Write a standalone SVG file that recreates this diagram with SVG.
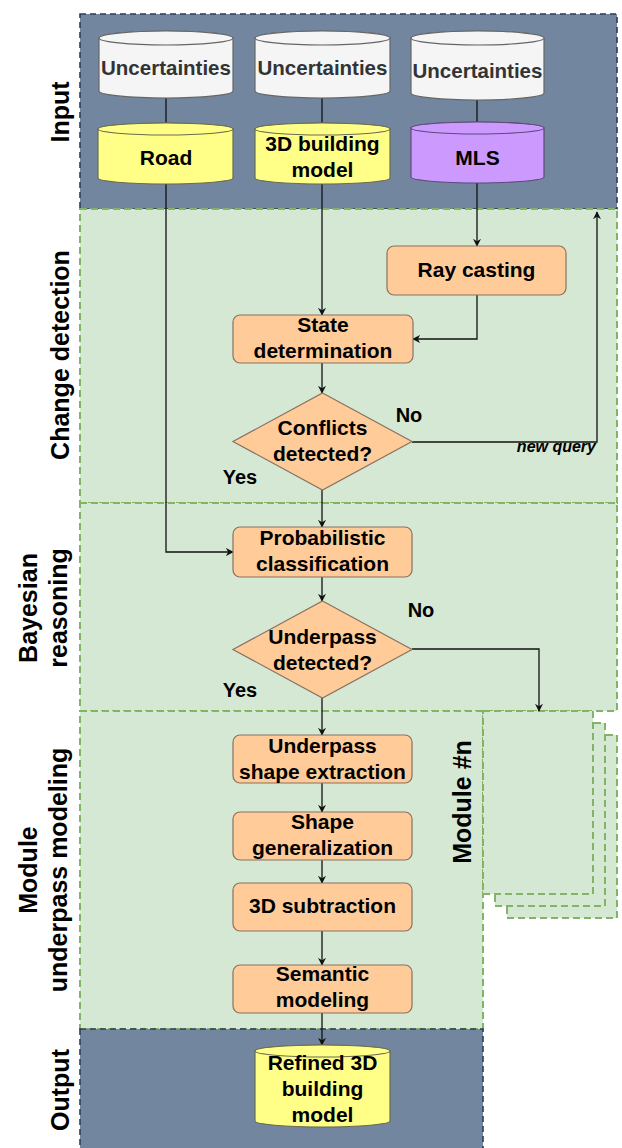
<svg xmlns="http://www.w3.org/2000/svg" width="622" height="1148" viewBox="0 0 622 1148">
<style>
text{font-family:"Liberation Sans",Arial,sans-serif;font-weight:bold;text-anchor:middle;fill:#000}
.t{font-size:21px}
.u{font-size:20.5px;fill:#333}
.lab{font-size:20px}
.side{font-size:25px}
.nq{font-size:16px;font-style:italic;text-anchor:end}
.dark{fill:#73869f;stroke:#2e3d52;stroke-width:1.6;stroke-dasharray:6 4}
.green{fill:#d5e8d4;stroke:#82b366;stroke-width:2;stroke-dasharray:7 4}
.box{fill:#ffcc99;stroke:#8a7160;stroke-width:1.2}
.cw{fill:#f5f5f5;stroke:#666;stroke-width:1.2}
.cy{fill:#ffff88;stroke:#6b6b50;stroke-width:1.2}
.cp{fill:#cc99ff;stroke:#5f4a7a;stroke-width:1.2}
.c{fill:none;stroke:#111;stroke-width:1.3}
</style>
<defs>
<marker id="ah" viewBox="0 0 10 10" refX="9" refY="5" markerWidth="8" markerHeight="8" markerUnits="userSpaceOnUse" orient="auto">
<path d="M0,0 L10,5 L0,10 L3,5 Z" fill="#111"/>
</marker>
</defs>
<g id="bands">
<rect id="band-input" class="dark" x="80" y="14" width="537" height="195"/>
<rect id="band-change" class="green" x="80" y="209" width="537" height="294"/>
<rect id="band-bayes" class="green" x="80" y="503" width="537" height="208"/>
<rect id="band-module" class="green" x="80" y="711" width="403" height="318"/>
<rect id="band-output" class="dark" x="80" y="1029" width="403" height="125"/>
</g>
<g id="module-n">
<rect class="green" x="507" y="735" width="110" height="183"/>
<rect class="green" x="495" y="723" width="110" height="183"/>
<rect class="green" x="483" y="711" width="110" height="183"/>
<text class="side" transform="translate(462,802) rotate(-90)" dy="0.35em">Module #n</text>
</g>
<g id="side-labels">
<text class="side" transform="translate(60,112) rotate(-90)" dy="0.35em">Input</text>
<text class="side" transform="translate(60,355) rotate(-90)" dy="0.35em">Change detection</text>
<text class="side" transform="translate(28,608) rotate(-90)" dy="0.35em">Bayesian</text>
<text class="side" transform="translate(58,608) rotate(-90)" dy="0.35em">reasoning</text>
<text class="side" transform="translate(28,870) rotate(-90)" dy="0.35em">Module</text>
<text class="side" transform="translate(58,870) rotate(-90)" dy="0.35em">underpass modeling</text>
<text class="side" transform="translate(60,1090) rotate(-90)" dy="0.35em">Output</text>
</g>
<g id="connectors">
<path class="c" d="M166,98 V123"/>
<path class="c" d="M322,98 V123"/>
<path class="c" d="M477,100 V122"/>
<path class="c" d="M166,184 V552 H233" marker-end="url(#ah)"/>
<path class="c" d="M322,184 V315" marker-end="url(#ah)"/>
<path class="c" d="M477,183 V246" marker-end="url(#ah)"/>
<path class="c" d="M477,295 V339 H413" marker-end="url(#ah)"/>
<path class="c" d="M322,363 V393" marker-end="url(#ah)"/>
<path class="c" d="M322,490 V527" marker-end="url(#ah)"/>
<path class="c" d="M412,442 H597 V212" marker-end="url(#ah)"/>
<path class="c" d="M322,577 V601" marker-end="url(#ah)"/>
<path class="c" d="M322,698 V735" marker-end="url(#ah)"/>
<path class="c" d="M412,649 H539 V711" marker-end="url(#ah)"/>
<path class="c" d="M322,783 V812" marker-end="url(#ah)"/>
<path class="c" d="M322,860 V883" marker-end="url(#ah)"/>
<path class="c" d="M322,931 V965" marker-end="url(#ah)"/>
<path class="c" d="M322,1013 V1045" marker-end="url(#ah)"/>
<text class="lab" x="409" y="422">No</text>
<text class="lab" x="240" y="484">Yes</text>
<text class="nq" x="596" y="452">new query</text>
<text class="lab" x="421" y="617">No</text>
<text class="lab" x="240" y="697">Yes</text>
</g>
<g id="unc1">
<path class="cw" d="M99,38 V91 A67,7 0 0 0 233,91 V38 A67,7 0 0 0 99,38 Z"/>
<ellipse class="cw" cx="166" cy="38" rx="67" ry="7"/>
<text class="u" x="166" y="75">Uncertainties</text>
</g>
<g id="unc2">
<path class="cw" d="M255,38 V91 A67.5,7 0 0 0 390,91 V38 A67.5,7 0 0 0 255,38 Z"/>
<ellipse class="cw" cx="322.5" cy="38" rx="67.5" ry="7"/>
<text class="u" x="322.5" y="75">Uncertainties</text>
</g>
<g id="unc3">
<path class="cw" d="M411,38 V93 A66.5,7 0 0 0 544,93 V38 A66.5,7 0 0 0 411,38 Z"/>
<ellipse class="cw" cx="477.5" cy="38" rx="66.5" ry="7"/>
<text class="u" x="477.5" y="78">Uncertainties</text>
</g>
<g id="road">
<path class="cy" d="M98,129 V178 A67.5,6 0 0 0 233,178 V129 A67.5,6 0 0 0 98,129 Z"/>
<ellipse class="cy" cx="165.5" cy="129" rx="67.5" ry="6"/>
<text class="t" x="166" y="164.5">Road</text>
</g>
<g id="building">
<path class="cy" d="M255,129 V178 A67.5,6 0 0 0 390,178 V129 A67.5,6 0 0 0 255,129 Z"/>
<ellipse class="cy" cx="322.5" cy="129" rx="67.5" ry="6"/>
<text class="t" x="322.5" y="150.5">3D building</text>
<text class="t" x="322.5" y="176.5">model</text>
</g>
<g id="mls">
<path class="cp" d="M411,128 V177 A66.5,6 0 0 0 544,177 V128 A66.5,6 0 0 0 411,128 Z"/>
<ellipse class="cp" cx="477.5" cy="128" rx="66.5" ry="6"/>
<text class="t" x="477.5" y="164.5">MLS</text>
</g>
<g id="raycasting">
<rect class="box" x="387" y="246" width="179" height="49" rx="7"/>
<text class="t" x="476.5" y="276.5">Ray casting</text>
</g>
<g id="state">
<rect class="box" x="233" y="315" width="180" height="48" rx="7"/>
<text class="t" x="323" y="331.5">State</text>
<text class="t" x="323" y="357.5">determination</text>
</g>
<g id="conflicts">
<path class="box" d="M322.5,393 L412,441.5 L322.5,490 L233,441.5 Z"/>
<text class="t" x="322.5" y="434.5">Conflicts</text>
<text class="t" x="322.5" y="460.5">detected?</text>
</g>
<g id="probabilistic">
<rect class="box" x="233" y="527" width="179" height="50" rx="7"/>
<text class="t" x="322.5" y="544.5">Probabilistic</text>
<text class="t" x="322.5" y="570.5">classification</text>
</g>
<g id="underpass-detected">
<path class="box" d="M322.5,601 L412,649.5 L322.5,698 L233,649.5 Z"/>
<text class="t" x="322.5" y="643.5">Underpass</text>
<text class="t" x="322.5" y="669.5">detected?</text>
</g>
<g id="shape-extraction">
<rect class="box" x="233" y="735" width="179" height="48" rx="7"/>
<text class="t" x="322.5" y="752.5">Underpass</text>
<text class="t" x="322.5" y="779">shape extraction</text>
</g>
<g id="generalization">
<rect class="box" x="233" y="812" width="179" height="48" rx="7"/>
<text class="t" x="322.5" y="828.5">Shape</text>
<text class="t" x="322.5" y="854.5">generalization</text>
</g>
<g id="subtraction">
<rect class="box" x="233" y="883" width="179" height="48" rx="7"/>
<text class="t" x="322.5" y="912.5">3D subtraction</text>
</g>
<g id="semantic">
<rect class="box" x="233" y="965" width="179" height="48" rx="7"/>
<text class="t" x="322.5" y="980.5">Semantic</text>
<text class="t" x="322.5" y="1007">modeling</text>
</g>
<g id="refined">
<path class="cy" d="M255,1051 V1121 A67.5,6 0 0 0 390,1121 V1051 A67.5,6 0 0 0 255,1051 Z"/>
<ellipse class="cy" cx="322.5" cy="1051" rx="67.5" ry="6"/>
<text class="t" x="322.5" y="1069.5">Refined 3D</text>
<text class="t" x="322.5" y="1095.5">building</text>
<text class="t" x="322.5" y="1122">model</text>
</g>
</svg>
